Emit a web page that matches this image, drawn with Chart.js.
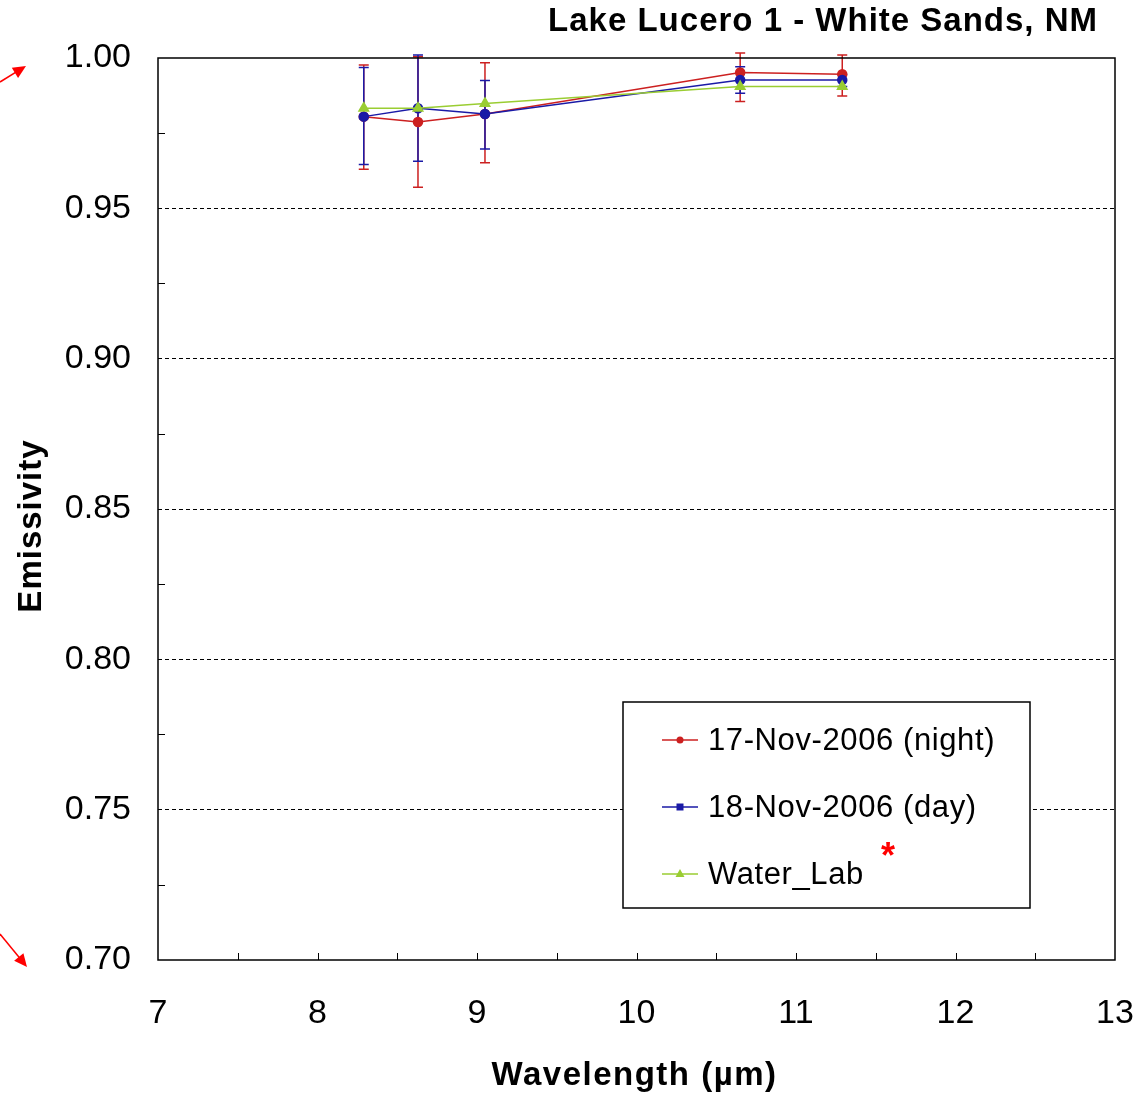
<!DOCTYPE html>
<html>
<head>
<meta charset="utf-8">
<title>Lake Lucero 1 - White Sands, NM</title>
<script src="https://cdn.jsdelivr.net/npm/chart.js@4.4.0/dist/chart.umd.min.js"></script>
<style>
  html, body { margin: 0; padding: 0; background: #fff; }
  #wrap { width: 1147px; height: 1095px; position: relative; }
</style>
</head>
<body>
<div id="wrap"><canvas id="emisChart" width="1147" height="1095"></canvas></div>
<script>
// Data
const wavelengths = [8.29, 8.63, 9.05, 10.65, 11.29];

const nightValues = [0.9805, 0.9787, 0.9814, 0.9952, 0.9946];
const nightHigh   = [0.9977, 1.0004, 0.9984, 1.0017, 1.0010];
const nightLow    = [0.9630, 0.9570, 0.9652, 0.9855, 0.9874];

const dayValues = [0.9805, 0.9833, 0.9814, 0.9927, 0.9927];
const dayHigh   = [0.9968, 1.0010, 0.9925, 0.9971, 0.9945];
const dayLow    = [0.9646, 0.9657, 0.9697, 0.9883, 0.9905];

const waterValues = [0.9833, 0.9833, 0.9849, 0.9905, 0.9905];

const seriesLabels = ['17-Nov-2006 (night)', '18-Nov-2006 (day)', 'Water_Lab'];
const xTicks = [7, 8, 9, 10, 11, 12, 13];
const yTicks = [0.70, 0.75, 0.80, 0.85, 0.90, 0.95, 1.00];

const RED = '#cc2020';
const BLUE = '#1a1aa6';
const GREEN = '#9acd32';
const FONT = "'Liberation Sans', Arial, sans-serif";

function toPoints(values) {
    return wavelengths.map((w, i) => ({ x: w, y: values[i] }));
}

// error bars, inner ticks, border, legend, titles and arrows
const decorPlugin = {
    id: 'decor',
    beforeDatasetsDraw(chart) {
        const ctx = chart.ctx;
        const xs = chart.scales.x, ys = chart.scales.y;
        const bars = [
            { color: RED, hi: nightHigh, lo: nightLow },
            { color: BLUE, hi: dayHigh, lo: dayLow }
        ];
        ctx.save();
        ctx.lineWidth = 1.5;
        bars.forEach(b => {
            ctx.strokeStyle = b.color;
            wavelengths.forEach((w, i) => {
                const px = xs.getPixelForValue(w);
                const top = ys.getPixelForValue(b.hi[i]);
                const bot = ys.getPixelForValue(b.lo[i]);
                ctx.beginPath();
                ctx.moveTo(px, top); ctx.lineTo(px, bot);
                ctx.moveTo(px - 5, top); ctx.lineTo(px + 5, top);
                ctx.moveTo(px - 5, bot); ctx.lineTo(px + 5, bot);
                ctx.stroke();
            });
        });
        ctx.restore();
    },
    afterDraw(chart) {
        const ctx = chart.ctx;
        const a = chart.chartArea;
        const xs = chart.scales.x, ys = chart.scales.y;
        ctx.save();

        // plot border
        ctx.strokeStyle = '#000';
        ctx.lineWidth = 1.5;
        ctx.strokeRect(a.left, a.top, a.right - a.left, a.bottom - a.top);

        // inner minor ticks
        ctx.lineWidth = 1;
        ctx.beginPath();
        for (let v = 7.5; v < 13; v += 0.5) {
            const px = Math.round(xs.getPixelForValue(v)) + 0.5;
            ctx.moveTo(px, a.bottom); ctx.lineTo(px, a.bottom - 7);
        }
        for (let v = 0.725; v < 1; v += 0.05) {
            const py = Math.round(ys.getPixelForValue(v)) + 0.5;
            ctx.moveTo(a.left, py); ctx.lineTo(a.left + 7, py);
        }
        ctx.stroke();

        // chart title
        ctx.fillStyle = '#000';
        ctx.textBaseline = 'middle';
        ctx.letterSpacing = '1px';
        ctx.font = 'bold 33px ' + FONT;
        ctx.textAlign = 'right';
        ctx.fillText('Lake Lucero 1 - White Sands, NM', 1098, 22);

        // axis titles
        ctx.letterSpacing = '1.5px';
        ctx.textAlign = 'center';
        ctx.fillText('Wavelength (µm)', (a.left + a.right) / 2 - 2, 1076);
        ctx.save();
        ctx.letterSpacing = '1px';
        ctx.translate(32, 526);
        ctx.rotate(-Math.PI / 2);
        ctx.fillText('Emissivity', 0, 0);
        ctx.restore();

        // legend box
        const lx = 623, ly = 702, lw = 407, lh = 206;
        ctx.fillStyle = '#fff';
        ctx.fillRect(lx, ly, lw, lh);
        ctx.strokeStyle = '#000';
        ctx.lineWidth = 1.5;
        ctx.strokeRect(lx, ly, lw, lh);
        const rows = [
            { label: seriesLabels[0], color: RED, shape: 'circle', y: 740 },
            { label: seriesLabels[1], color: BLUE, shape: 'rect', y: 807 },
            { label: seriesLabels[2], color: GREEN, shape: 'tri', y: 874 }
        ];
        ctx.letterSpacing = '0.6px';
        ctx.font = '31px ' + FONT;
        ctx.textAlign = 'left';
        rows.forEach(r => {
            ctx.strokeStyle = r.color;
            ctx.fillStyle = r.color;
            ctx.lineWidth = 1.5;
            ctx.beginPath();
            ctx.moveTo(662, r.y); ctx.lineTo(698, r.y);
            ctx.stroke();
            ctx.beginPath();
            if (r.shape === 'circle') {
                ctx.arc(680, r.y, 3.5, 0, Math.PI * 2);
            } else if (r.shape === 'rect') {
                ctx.rect(676.5, r.y - 3.5, 7, 7);
            } else {
                ctx.moveTo(680, r.y - 5); ctx.lineTo(684.5, r.y + 3); ctx.lineTo(675.5, r.y + 3);
                ctx.closePath();
            }
            ctx.fill();
            ctx.fillStyle = '#000';
            ctx.fillText(r.label, 708, r.y + 1);
        });

        // red asterisk
        ctx.letterSpacing = '0px';
        ctx.fillStyle = '#ff0000';
        ctx.font = 'bold 36px ' + FONT;
        ctx.textAlign = 'center';
        ctx.fillText('*', 888, 858);

        // red arrows on the left
        drawArrow(ctx, 0, 82, 26, 66);
        drawArrow(ctx, 0, 934, 27, 967);
        ctx.restore();
    }
};

function drawArrow(ctx, x1, y1, x2, y2) {
    const ang = Math.atan2(y2 - y1, x2 - x1);
    ctx.strokeStyle = '#ff0000';
    ctx.fillStyle = '#ff0000';
    ctx.lineWidth = 1.5;
    ctx.beginPath();
    ctx.moveTo(x1, y1);
    ctx.lineTo(x2 - 8 * Math.cos(ang), y2 - 8 * Math.sin(ang));
    ctx.stroke();
    ctx.beginPath();
    ctx.moveTo(x2, y2);
    ctx.lineTo(x2 - 13 * Math.cos(ang) + 6 * Math.sin(ang), y2 - 13 * Math.sin(ang) - 6 * Math.cos(ang));
    ctx.lineTo(x2 - 13 * Math.cos(ang) - 6 * Math.sin(ang), y2 - 13 * Math.sin(ang) + 6 * Math.cos(ang));
    ctx.closePath();
    ctx.fill();
}

const ctx = document.getElementById('emisChart').getContext('2d');
new Chart(ctx, {
    type: 'scatter',
    data: {
        datasets: [
            {
                label: seriesLabels[0],
                data: toPoints(nightValues),
                showLine: true,
                borderColor: RED,
                backgroundColor: RED,
                borderWidth: 1.5,
                pointStyle: 'circle',
                pointRadius: 4.5,
                order: 3
            },
            {
                label: seriesLabels[1],
                data: toPoints(dayValues),
                showLine: true,
                borderColor: BLUE,
                backgroundColor: BLUE,
                borderWidth: 1.5,
                pointStyle: 'circle',
                pointRadius: 4.5,
                order: 2
            },
            {
                label: seriesLabels[2],
                data: toPoints(waterValues),
                showLine: true,
                borderColor: GREEN,
                backgroundColor: GREEN,
                borderWidth: 1.5,
                pointStyle: 'triangle',
                pointRadius: 5.5,
                order: 1
            }
        ]
    },
    options: {
        responsive: false,
        animation: false,
        layout: { padding: { left: 0, top: 58, right: 32, bottom: 0 } },
        plugins: {
            legend: { display: false },
            tooltip: { enabled: false }
        },
        scales: {
            x: {
                type: 'linear',
                min: xTicks[0],
                max: xTicks[xTicks.length - 1],
                afterBuildTicks: scale => { scale.ticks = xTicks.map(v => ({ value: v })); },
                afterFit: scale => {
                    scale.height = 135;
                    scale.paddingLeft = 0;
                    scale.paddingRight = 0;
                },
                grid: { display: false },
                border: { display: false },
                ticks: {
                    padding: 25,
                    color: '#000',
                    maxRotation: 0,
                    font: { size: 34, family: FONT }
                }
            },
            y: {
                min: yTicks[0],
                max: yTicks[yTicks.length - 1],
                afterBuildTicks: scale => { scale.ticks = yTicks.map(v => ({ value: v })); },
                afterFit: scale => {
                    scale.width = 158;
                    scale.paddingTop = 0;
                    scale.paddingBottom = 0;
                },
                grid: {
                    drawTicks: false,
                    color: c => (c.tick && (Math.abs(c.tick.value - 0.7) < 1e-6 || Math.abs(c.tick.value - 1) < 1e-6)) ? 'rgba(0,0,0,0)' : '#000',
                    lineWidth: 1
                },
                border: { display: false, dash: [4, 3] },
                ticks: {
                    padding: 27,
                    color: '#000',
                    font: { size: 34, family: FONT },
                    callback: v => v.toFixed(2)
                }
            }
        }
    },
    plugins: [decorPlugin]
});
</script>
</body>
</html>
